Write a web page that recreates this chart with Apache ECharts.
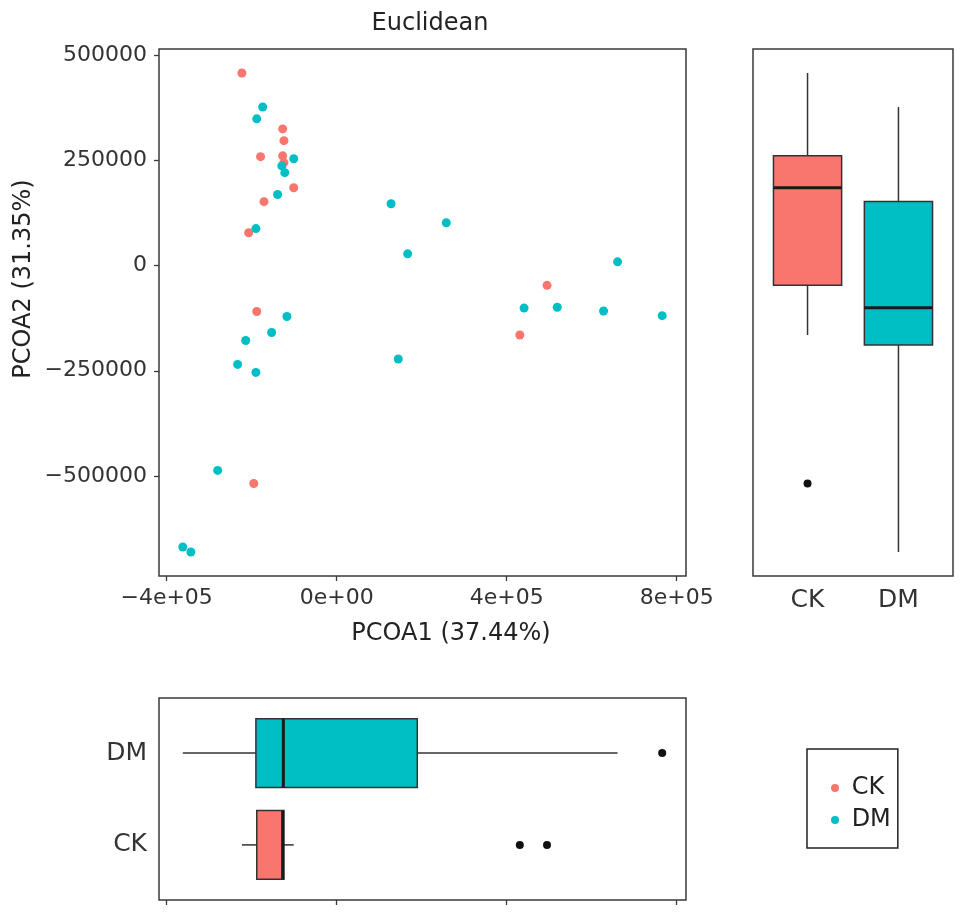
<!DOCTYPE html>
<html><head><meta charset="utf-8">
<script src="https://cdn.jsdelivr.net/npm/echarts@6/dist/echarts.min.js"></script>
<style>html,body{margin:0;padding:0;background:#fff}#c{width:969px;height:923px}</style>
</head><body><div id="c"></div>
<script>
// ---- data ----
const groups = ['CK', 'DM'];
const groupColors = ['#F8766D', '#00BFC4'];
const ckX = [-223000, -127000, -124000, -179000, -127000, -124000, -101000, -171000, -207000, -188000, -195000, 495000, 431000];
const ckY = [458000, 325000, 297000, 259000, 261000, 245000, 185000, 152000, 78000, -109000, -518000, -47000, -165000];
const dmX = [-174000, -188000, -101000, -129000, -122000, -139000, -190000, -117000, -153000, -214000, -233000, -190000, -280000, -362000, -343000, 128000, 258000, 167000, 661000, 441000, 519000, 628000, 766000, 145000];
const dmY = [377000, 349000, 254000, 237000, 221000, 169000, 88000, -121000, -159000, -178000, -235000, -254000, -487000, -669000, -681000, 147000, 102000, 28000, 9000, -101000, -99000, -108000, -119000, -222000];
const xTicks = [-400000, 0, 400000, 800000];
const xTickLabels = ['\u22124e+05', '0e+00', '4e+05', '8e+05'];
const yTicks = [-500000, -250000, 0, 250000, 500000];
const yTickLabels = ['\u2212500000', '\u2212250000', '0', '250000', '500000'];
const xRange = [-418000, 822000];
const yRange = [-738000, 515000];
const titleText = 'Euclidean';
const xName = 'PCOA1 (37.44%)';
const yName = 'PCOA2 (31.35%)';

// ---- boxplot statistics (type-7 quantiles, 1.5 IQR whiskers) ----
function quant(s, p) { const h = (s.length - 1) * p, lo = Math.floor(h), hi = Math.ceil(h); return s[lo] + (h - lo) * (s[hi] - s[lo]); }
function stats(arr) {
  const s = [...arr].sort((a, b) => a - b);
  const q1 = quant(s, .25), md = quant(s, .5), q3 = quant(s, .75), iqr = q3 - q1;
  const lo = q1 - 1.5 * iqr, hi = q3 + 1.5 * iqr;
  const inside = s.filter(v => v >= lo && v <= hi);
  return { min: inside[0], q1, md, q3, max: inside[inside.length - 1], out: s.filter(v => v < lo || v > hi) };
}
const statsY = [stats(ckY), stats(dmY)];
const statsX = [stats(ckX), stats(dmX)];

const FONT = 'DejaVu Sans';
const BORDER = '#3a3a3a';

function boxRender(horizontal) {
  return function (params, api) {
    const pos = api.value(0), mn = api.value(1), q1 = api.value(2), md = api.value(3), q3 = api.value(4), mx = api.value(5);
    const hw = 0.375;
    const P = (p, v) => horizontal ? api.coord([v, p]) : api.coord([p, v]);
    const a = P(pos - hw, q1), b = P(pos + hw, q3);
    const w1 = P(pos, mn), w2 = P(pos, q1), w3 = P(pos, q3), w4 = P(pos, mx);
    const m1 = P(pos - hw, md), m2 = P(pos + hw, md);
    const ls = { stroke: '#333', lineWidth: 1.5 };
    return {
      type: 'group', children: [
        { type: 'line', shape: { x1: w1[0], y1: w1[1], x2: w2[0], y2: w2[1] }, style: ls },
        { type: 'line', shape: { x1: w3[0], y1: w3[1], x2: w4[0], y2: w4[1] }, style: ls },
        { type: 'rect', shape: { x: Math.min(a[0], b[0]), y: Math.min(a[1], b[1]), width: Math.abs(b[0] - a[0]), height: Math.abs(b[1] - a[1]) },
          style: { fill: api.visual('color'), stroke: '#333', lineWidth: 1.5 } },
        { type: 'line', shape: { x1: m1[0], y1: m1[1], x2: m2[0], y2: m2[1] }, style: { stroke: '#1a1a1a', lineWidth: 3 } }
      ]
    };
  };
}

const boxDataY = statsY.map((s, i) => ({ value: [i + 1, s.min, s.q1, s.md, s.q3, s.max], itemStyle: { color: groupColors[i] } }));
const boxDataX = statsX.map((s, i) => ({ value: [i + 1, s.min, s.q1, s.md, s.q3, s.max], itemStyle: { color: groupColors[i] } }));
const outY = []; statsY.forEach((s, i) => s.out.forEach(v => outY.push([i + 1, v])));
const outX = []; statsX.forEach((s, i) => s.out.forEach(v => outX.push([v, i + 1])));

const tickStyle = { show: true, length: 5, lineStyle: { color: BORDER, width: 1.3 } };
const labStyle = { color: '#333', fontFamily: FONT, fontSize: 22 };
const noLine = { show: false, onZero: false };

const chart = echarts.init(document.getElementById('c'), null, { renderer: 'canvas' });
chart.setOption({
  animation: false,
  backgroundColor: '#fff',
  textStyle: { fontFamily: FONT },
  grid: [
    { left: 159, top: 49, width: 527, height: 527, show: true, borderColor: BORDER, borderWidth: 1.5, backgroundColor: 'transparent' },
    { left: 753, top: 49, width: 200, height: 527, show: true, borderColor: BORDER, borderWidth: 1.5, backgroundColor: 'transparent' },
    { left: 159, top: 698, width: 527, height: 202, show: true, borderColor: BORDER, borderWidth: 1.5, backgroundColor: 'transparent' }
  ],
  xAxis: [
    { gridIndex: 0, type: 'value', min: xRange[0], max: xRange[1], splitLine: { show: false }, axisLine: noLine,
      axisTick: Object.assign({ customValues: xTicks }, tickStyle),
      axisLabel: Object.assign({ customValues: xTicks, margin: 11, formatter: v => xTickLabels[xTicks.indexOf(v)] }, labStyle) },
    { gridIndex: 1, type: 'value', min: 0.4, max: 2.6, splitLine: { show: false }, axisLine: noLine, axisTick: { show: false },
      axisLabel: Object.assign({ customValues: [1, 2], margin: 12, formatter: v => groups[Math.round(v) - 1] }, labStyle, { fontSize: 25 }) },
    { gridIndex: 2, type: 'value', min: xRange[0], max: xRange[1], splitLine: { show: false }, axisLine: noLine,
      axisTick: Object.assign({ customValues: xTicks }, tickStyle), axisLabel: { show: false } }
  ],
  yAxis: [
    { gridIndex: 0, type: 'value', min: yRange[0], max: yRange[1], splitLine: { show: false }, axisLine: noLine,
      axisTick: Object.assign({ customValues: yTicks }, tickStyle),
      axisLabel: Object.assign({ customValues: yTicks, margin: 12, formatter: v => yTickLabels[yTicks.indexOf(v)] }, labStyle) },
    { gridIndex: 1, type: 'value', min: yRange[0], max: yRange[1], splitLine: { show: false }, axisLine: noLine,
      axisTick: { show: false }, axisLabel: { show: false } },
    { gridIndex: 2, type: 'value', min: 0.4, max: 2.6, splitLine: { show: false }, axisLine: noLine, axisTick: { show: false },
      axisLabel: Object.assign({ customValues: [1, 2], margin: 12, formatter: v => groups[Math.round(v) - 1] }, labStyle, { fontSize: 25 }) }
  ],
  legend: {
    data: groups, orient: 'vertical', left: 807, top: 749,
    padding: [26, 7, 15, 24], itemGap: 6, itemWidth: 8, itemHeight: 8,
    borderColor: '#222', borderWidth: 1.5, icon: 'circle',
    formatter: n => ' ' + n,
    textStyle: { fontFamily: FONT, fontSize: 24, color: '#222', lineHeight: 26 }
  },
  series: [
    { name: 'CK', type: 'scatter', xAxisIndex: 0, yAxisIndex: 0, symbolSize: 9, itemStyle: { color: groupColors[0], opacity: 1 },
      data: ckX.map((x, i) => [x, ckY[i]]) },
    { name: 'DM', type: 'scatter', xAxisIndex: 0, yAxisIndex: 0, symbolSize: 9, itemStyle: { color: groupColors[1], opacity: 1 },
      data: dmX.map((x, i) => [x, dmY[i]]) },
    { name: 'boxY', type: 'custom', xAxisIndex: 1, yAxisIndex: 1, renderItem: boxRender(false), data: boxDataY },
    { name: 'outY', type: 'scatter', xAxisIndex: 1, yAxisIndex: 1, symbolSize: 8, itemStyle: { color: '#111', opacity: 1 }, data: outY },
    { name: 'boxX', type: 'custom', xAxisIndex: 2, yAxisIndex: 2, renderItem: boxRender(true), data: boxDataX },
    { name: 'outX', type: 'scatter', xAxisIndex: 2, yAxisIndex: 2, symbolSize: 8, itemStyle: { color: '#111', opacity: 1 }, data: outX }
  ],
  graphic: [
    { type: 'text', x: 430, y: 24, style: { text: titleText, font: '24px "DejaVu Sans"', fill: '#222', align: 'center', verticalAlign: 'middle' } },
    { type: 'text', x: 451, y: 634, style: { text: xName, font: '24px "DejaVu Sans"', fill: '#222', align: 'center', verticalAlign: 'middle' } },
    { type: 'text', x: 24, y: 279, rotation: Math.PI / 2, style: { text: yName, font: '24px "DejaVu Sans"', fill: '#222', align: 'center', verticalAlign: 'middle' } }
  ]
});
</script></body></html>
